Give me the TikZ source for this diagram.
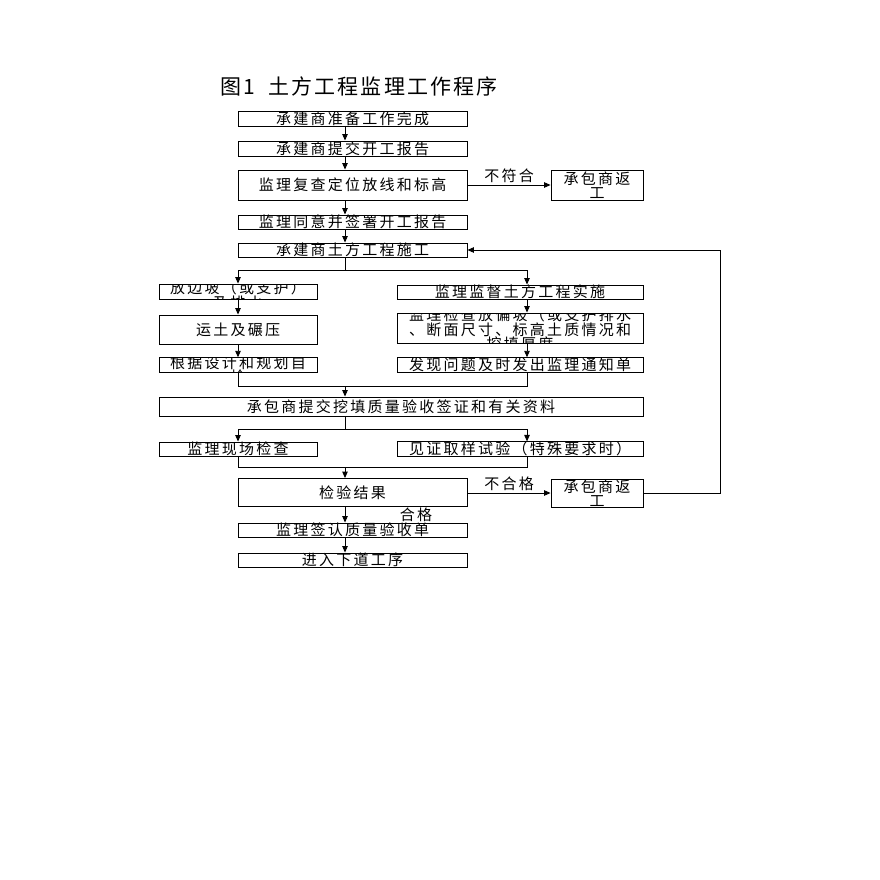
\documentclass[tikz,border=0pt]{standalone}
\usepackage{fontspec}
\newfontfamily\cjk[LetterSpace=15]{Noto Sans CJK SC}
\newfontfamily\cjkt[LetterSpace=10]{Noto Sans CJK SC}
\usetikzlibrary{arrows.meta}
\tikzset{
  box/.style={draw, line width=0.9pt, inner sep=0pt, font=\cjk\fontsize{15}{13.5}\selectfont, align=center},
  arr/.style={-{Triangle[length=6.5pt,width=5.5pt]}, line width=0.9pt},
  ln/.style={line width=0.9pt},
  lbl/.style={inner sep=0pt, font=\cjk\fontsize{15}{14}\selectfont},
  cliptext/.style={draw=none, inner sep=0pt, minimum width=0pt, minimum height=0pt, align=center, font=\cjk\fontsize{15}{14}\selectfont}
}
\begin{document}
\begin{tikzpicture}[x=1pt,y=-1pt]
\useasboundingbox[fill=white] (0,0) rectangle (880,880);
\coordinate (mx) at (345,0);
\coordinate (lx) at (238,0);
\coordinate (rx) at (527,0);
\coordinate (fx) at (720,0);

\node[inner sep=0pt, anchor=west, font=\cjkt\fontsize{21}{22}\selectfont] (title) at (220,86) {图1\ \ 土方工程监理工作程序};

\node[box, minimum width=229pt, minimum height=15pt] (b1) at (352.5,118.5) {承建商准备工作完成};
\node[box, minimum width=229pt, minimum height=15pt] (b2) at (352.5,148.5) {承建商提交开工报告};
\node[box, minimum width=229pt, minimum height=30pt] (b3) at (352.5,185) {监理复查定位放线和标高};
\node[box, minimum width=92pt, minimum height=30pt] (r1) at (597,185) {承包商返\\工};
\node[box, minimum width=229pt, minimum height=14pt] (b4) at (352.5,222) {监理同意并签署开工报告};
\node[box, minimum width=229pt, minimum height=14pt] (b5) at (352.5,250) {承建商土方工程施工};

\node[box, minimum width=158pt, minimum height=15pt,
  path picture={\node[cliptext] at ([yshift=-4pt]path picture bounding box.center) {放边坡（或支护）\\及排水};}] (L1) at (238,291.5) {};
\node[box, minimum width=246pt, minimum height=14pt] (R1) at (520,292) {监理监督土方工程实施};
\node[box, minimum width=158pt, minimum height=29pt] (L2) at (238,329.5) {运土及碾压};
\node[box, minimum width=246pt, minimum height=30pt,
  path picture={\node[cliptext] at ([yshift=-1.5pt]path picture bounding box.center) {监理检查放偏坡（或支护排水\\、断面尺寸、标高土质情况和\\挖填厚度};}] (R2) at (520,328) {};
\node[box, minimum width=158pt, minimum height=14.5pt,
  path picture={\node[cliptext] at ([yshift=-4.5pt]path picture bounding box.center) {根据设计和规划自\\检};}] (L3) at (238,365) {};
\node[box, minimum width=246pt, minimum height=14.5pt] (R3) at (520,365) {发现问题及时发出监理通知单};

\node[box, minimum width=484pt, minimum height=19pt] (B) at (401,406.5) {承包商提交挖填质量验收签证和有关资料};
\node[box, minimum width=158pt, minimum height=14pt] (C1) at (238,449) {监理现场检查};
\node[box, minimum width=246pt, minimum height=14pt] (C2) at (520,449) {见证取样试验（特殊要求时）};

\node[box, minimum width=229pt, minimum height=28pt] (D) at (352.5,492.5) {检验结果};
\node[box, minimum width=92pt, minimum height=28pt] (r2) at (597,493) {承包商返\\工};
\node[box, minimum width=229pt, minimum height=14pt] (E) at (352.5,530) {监理签认质量验收单};
\node[box, minimum width=229pt, minimum height=14pt] (F) at (352.5,560) {进入下道工序};

% main chain
\draw[arr] (b1.south -| mx) -- (b2.north -| mx);
\draw[arr] (b2.south -| mx) -- (b3.north -| mx);
\draw[arr] (b3.east) -- (r1.west) node[lbl, midway, above=2pt] (l1) {不符合};
\draw[arr] (b3.south -| mx) -- (b4.north -| mx);
\draw[arr] (b4.south -| mx) -- (b5.north -| mx);

% branch after b5
\coordinate (j1) at (345,270);
\draw[ln] (b5.south -| mx) -- (j1);
\draw[ln] (j1 -| lx) -- (j1 -| rx);
\draw[arr] (j1 -| lx) -- (L1.north -| lx);
\draw[arr] (j1 -| rx) -- (R1.north -| rx);
\draw[arr] (L1.south -| lx) -- (L2.north -| lx);
\draw[arr] (L2.south -| lx) -- (L3.north -| lx);
\draw[arr] (R1.south -| rx) -- (R2.north -| rx);
\draw[arr] (R2.south -| rx) -- (R3.north -| rx);

% merge
\coordinate (j2) at (345,386);
\draw[ln] (L3.south -| lx) -- (j2 -| lx) -- (j2 -| rx) -- (R3.south -| rx);
\draw[arr] (j2) -- (B.north -| mx);

\coordinate (j3) at (345,429);
\draw[ln] (B.south -| mx) -- (j3);
\draw[ln] (j3 -| lx) -- (j3 -| rx);
\draw[arr] (j3 -| lx) -- (C1.north -| lx);
\draw[arr] (j3 -| rx) -- (C2.north -| rx);

\coordinate (j4) at (345,467);
\draw[ln] (C1.south -| lx) -- (j4 -| lx) -- (j4 -| rx) -- (C2.south -| rx);
\draw[arr] (j4) -- (D.north -| mx);

\draw[arr] (D.east |- r2.west) -- (r2.west) node[lbl, midway, above=2pt] (l2) {不合格};
\draw[arr] (r2.east) -- (r2.east -| fx) -- (b5.east -| fx) -- (b5.east);

\draw[arr] (D.south -| mx) -- (E.north -| mx);
\node[lbl] (l3) at (416,515) {合格};
\draw[arr] (E.south -| mx) -- (F.north -| mx);
\end{tikzpicture}
\end{document}
